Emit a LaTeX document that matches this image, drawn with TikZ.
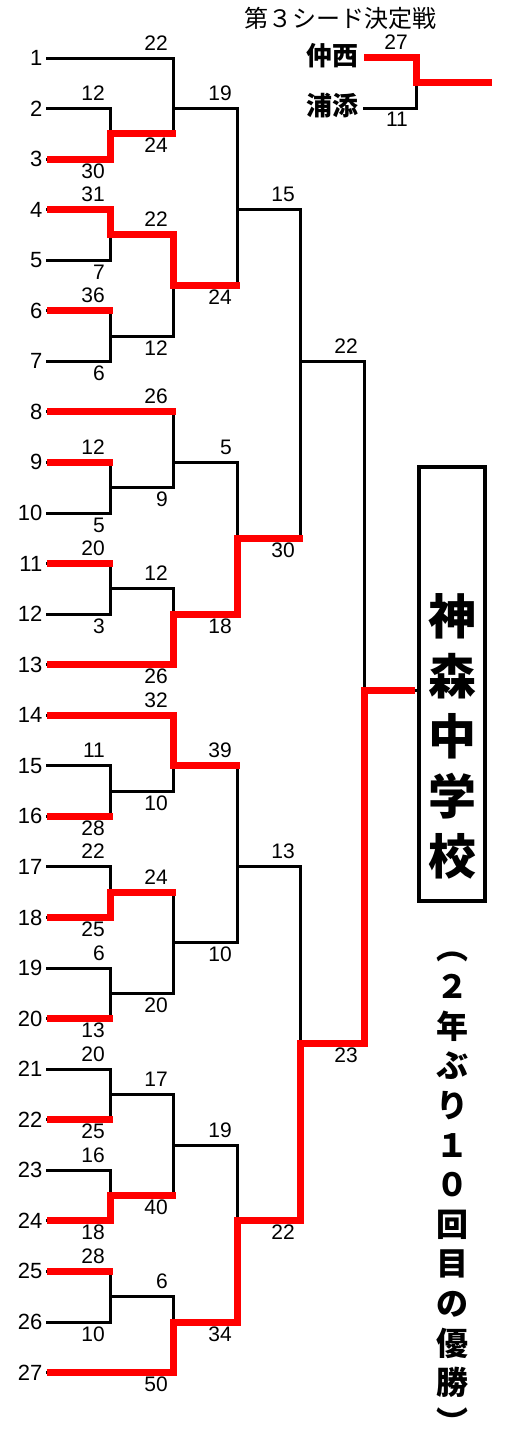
\documentclass[tikz,border=0pt]{standalone}
\usepackage{fontspec}
\setmainfont{Liberation Sans}
\newfontfamily\jpf{Noto Sans CJK JP}
\newcommand\bky[1]{58+25.28*(#1)}
\begin{document}
\begin{tikzpicture}[x=1pt,y=-1pt,
  bl/.style={line width=3pt,black,line cap=rect},
  rd/.style={line width=7pt,red,line join=miter},
  sc/.style={font=\fontsize{21}{21}\selectfont,inner sep=0pt,anchor=base east},
  tm/.style={font=\fontsize{22}{22}\selectfont,inner sep=0pt,anchor=base east}]
\useasboundingbox (0,0) rectangle (504,1430);
% team numbers
\foreach \i in {1,...,27}
  \node[tm] (t\i) at (42.5,{\bky{2*(\i-1)}+7.5}) {\i};
% team lines
\foreach \i/\e in {1/173,2/110,3/110,4/110,5/110,6/110,7/110,8/173,9/110,10/110,11/110,12/110,13/173,14/173,15/110,16/110,17/110,18/110,19/110,20/110,21/110,22/110,23/110,24/110,25/110,26/110,27/173}
  \draw[bl] (47,{\bky{2*(\i-1)}}) -- (\e,{\bky{2*(\i-1)}});
% matches: vertical x / next x / top k / bottom k / out k
\foreach \x/\xn/\a/\b/\m in {
  110/173/2/4/3, 110/173/6/8/7, 110/173/10/12/11, 110/173/16/18/17, 110/173/20/22/21,
  110/173/28/30/29, 110/173/32/34/33, 110/173/36/38/37, 110/173/40/42/41, 110/173/44/46/45, 110/173/48/50/49,
  173/237/0/3/2, 173/237/7/11/9, 173/237/14/17/16, 173/237/21/24/22,
  173/237/26/29/28, 173/237/33/37/35, 173/237/41/45/43, 173/237/49/52/50,
  237/300/2/9/6, 237/300/16/22/19, 237/300/28/35/32, 237/300/43/50/46,
  300/364/6/19/12, 300/364/32/46/39,
  364/415/12/39/25}
{
  \draw[bl] (\x,{\bky{\a}}) -- (\x,{\bky{\b}});
  \draw[bl] (\x,{\bky{\m}}) -- (\xn,{\bky{\m}});
}
% winners' paths
\draw[rd] (47,{\bky{4}}) -- (110,{\bky{4}}) -- (110,{\bky{3}}) -- (176,{\bky{3}});
\draw[rd] (47,{\bky{6}}) -- (110,{\bky{6}}) -- (110,{\bky{7}}) -- (173,{\bky{7}}) -- (173,{\bky{9}}) -- (240,{\bky{9}});
\draw[rd] (47,{\bky{10}}) -- (113,{\bky{10}});
\draw[rd] (47,{\bky{14}}) -- (176,{\bky{14}});
\draw[rd] (47,{\bky{16}}) -- (113,{\bky{16}});
\draw[rd] (47,{\bky{20}}) -- (113,{\bky{20}});
\draw[rd] (47,{\bky{24}}) -- (173,{\bky{24}}) -- (173,{\bky{22}}) -- (237,{\bky{22}}) -- (237,{\bky{19}}) -- (303,{\bky{19}});
\draw[rd] (47,{\bky{26}}) -- (173,{\bky{26}}) -- (173,{\bky{28}}) -- (240,{\bky{28}});
\draw[rd] (47,{\bky{30}}) -- (113,{\bky{30}});
\draw[rd] (47,{\bky{34}}) -- (110,{\bky{34}}) -- (110,{\bky{33}}) -- (176,{\bky{33}});
\draw[rd] (47,{\bky{38}}) -- (113,{\bky{38}});
\draw[rd] (47,{\bky{42}}) -- (113,{\bky{42}});
\draw[rd] (47,{\bky{46}}) -- (110,{\bky{46}}) -- (110,{\bky{45}}) -- (176,{\bky{45}});
\draw[rd] (47,{\bky{48}}) -- (113,{\bky{48}});
\draw[rd] (47,{\bky{52}}) -- (173,{\bky{52}}) -- (173,{\bky{50}}) -- (237,{\bky{50}}) -- (237,{\bky{46}}) -- (300,{\bky{46}}) -- (300,{\bky{39}}) -- (364,{\bky{39}}) -- (364,{\bky{25}}) -- (415,{\bky{25}});
% scores above lines
\foreach \x/\k/\s in {
  105/2/12, 105/6/31, 105/10/36, 105/16/12, 105/20/20, 105/28/11, 105/32/22, 105/36/6, 105/40/20, 105/44/16, 105/48/28,
  168/0/22, 168/7/22, 168/14/26, 168/21/12, 168/26/32, 168/33/24, 168/41/17, 168/49/6,
  232/2/19, 232/16/5, 232/28/39, 232/43/19,
  295/6/15, 295/32/13, 358/12/22}
  \node[sc] (sa-\x-\k) at (\x,{\bky{\k}-8}) {\s};
% scores below lines
\foreach \x/\k/\s in {
  105/4/30, 105/8/7, 105/12/6, 105/18/5, 105/22/3, 105/30/28, 105/34/25, 105/38/13, 105/42/25, 105/46/18, 105/50/10,
  168/3/24, 168/11/12, 168/17/9, 168/24/26, 168/29/10, 168/37/20, 168/45/40, 168/52/50,
  232/9/24, 232/22/18, 232/35/10, 232/50/34,
  295/19/30, 295/46/22, 358/39/23}
  \node[sc] (sb-\x-\k) at (\x,{\bky{\k}+19}) {\s};
% third seed decider
\node[font=\jpf\fontsize{24}{24}\selectfont,inner sep=0pt] (title) at (340,18) {第３シード決定戦};
\node[font=\jpf\bfseries\fontsize{26}{26}\selectfont,inner sep=0pt,anchor=east] (naka) at (359,56) {仲西};
\node[font=\jpf\bfseries\fontsize{26}{26}\selectfont,inner sep=0pt,anchor=east] (ura) at (359,106) {浦添};
\draw[bl] (364,108) -- (416,108) -- (416,82);
\draw[rd] (364,57) -- (416,57) -- (416,82) -- (492,82);
\node[sc] (s27) at (408,49) {27};
\node[sc] (s11) at (408,126) {11};
% champion
\node[draw,line width=4pt,minimum width=66pt,minimum height=434pt,inner sep=0pt] (box) at (452,684) {};
\node[font=\jpf\bfseries\fontsize{48}{60}\selectfont,align=center,inner sep=0pt] (school) at (452,736) {神\\森\\中\\学\\校};
\node[font=\jpf\bfseries\fontsize{32}{39.6}\selectfont,align=center,inner sep=0pt] (note) at (452,1193) {︵\\２\\年\\ぶ\\り\\１\\０\\回\\目\\の\\優\\勝\\︶};
\end{tikzpicture}
\end{document}
